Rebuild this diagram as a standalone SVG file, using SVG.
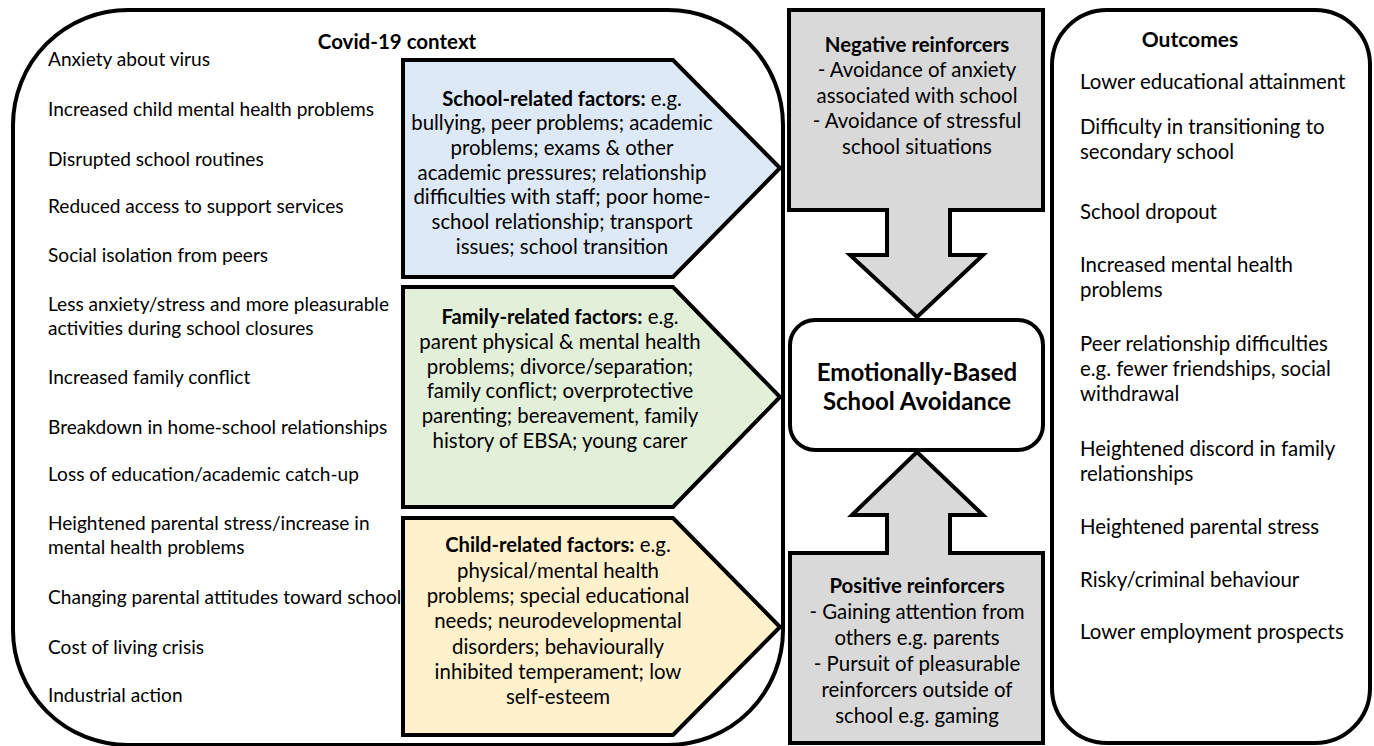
<svg xmlns="http://www.w3.org/2000/svg" width="1374" height="746" viewBox="0 0 1374 746">
<style>
.t{font-family:Lato,"Liberation Sans",sans-serif;fill:#000}
.l{font-size:19.1px}
.p{font-size:20.4px;text-anchor:middle}
.o{font-size:20.4px}
.b{font-weight:bold}
.pb{font-weight:bold;font-size:20.2px}
.box{fill:#fff;stroke:#000;stroke-width:4}
.pent{stroke:#000;stroke-width:4;stroke-linejoin:miter}
.gray{fill:#d9d9d9;stroke:#000;stroke-width:4;stroke-linejoin:miter}
</style>
<rect width="1374" height="746" fill="#fff"/>
<g id="covid-context">
<rect class="box" x="13" y="10" width="770" height="735" rx="115" ry="115"/>
<text class="t b" x="397" y="49" font-size="20.5" text-anchor="middle">Covid-19 context</text>
<g class="t l">
<text x="48" y="66">Anxiety about virus</text>
<text x="48" y="116">Increased child mental health problems</text>
<text x="48" y="166">Disrupted school routines</text>
<text x="48" y="213">Reduced access to support services</text>
<text x="48" y="262">Social isolation from peers</text>
<text x="48" y="311">Less anxiety/stress and more pleasurable</text>
<text x="48" y="335">activities during school closures</text>
<text x="48" y="384">Increased family conflict</text>
<text x="48" y="434">Breakdown in home-school relationships</text>
<text x="48" y="481">Loss of education/academic catch-up</text>
<text x="48" y="530">Heightened parental stress/increase in</text>
<text x="48" y="554">mental health problems</text>
<text x="48" y="604">Changing parental attitudes toward school</text>
<text x="48" y="654">Cost of living crisis</text>
<text x="48" y="702">Industrial action</text>
</g>
</g>
<g id="school-factors">
<polygon class="pent" fill="#dde9f6" points="403,60 673,60 780,168 673,277 403,277"/>
<g class="t p">
<text x="562" y="106"><tspan class="pb">School-related factors:</tspan> e.g.</text>
<text x="562" y="130">bullying, peer problems; academic</text>
<text x="562" y="155">problems; exams &amp; other</text>
<text x="562" y="180">academic pressures; relationship</text>
<text x="562" y="204">difficulties with staff; poor home-</text>
<text x="562" y="229">school relationship; transport</text>
<text x="562" y="254">issues; school transition</text>
</g>
</g>
<g id="family-factors">
<polygon class="pent" fill="#e2efd9" points="403,287 673,287 780,397 673,507 403,507"/>
<g class="t p">
<text x="560" y="324"><tspan class="pb">Family-related factors:</tspan> e.g.</text>
<text x="560" y="349">parent physical &amp; mental health</text>
<text x="560" y="374">problems; divorce/separation;</text>
<text x="560" y="398">family conflict; overprotective</text>
<text x="560" y="423">parenting; bereavement, family</text>
<text x="560" y="448">history of EBSA; young carer</text>
</g>
</g>
<g id="child-factors">
<polygon class="pent" fill="#fff1cc" points="403,518 673,518 780,627 673,735 403,735"/>
<g class="t p">
<text x="558" y="552"><tspan class="pb">Child-related factors:</tspan> e.g.</text>
<text x="558" y="578">physical/mental health</text>
<text x="558" y="603">problems; special educational</text>
<text x="558" y="628">needs; neurodevelopmental</text>
<text x="558" y="654">disorders; behaviourally</text>
<text x="558" y="679">inhibited temperament; low</text>
<text x="558" y="704">self-esteem</text>
</g>
</g>
<g id="connectors">
<path id="negative-arrow" class="gray" d="M789,10 H1043 V210 H950 V255 H983 L917,317 L850,255 H887 V210 H789 Z"/>
<path id="positive-arrow" class="gray" d="M790,553 H887 V515 H852 L917,452 L983,515 H950 V553 H1043 V743 H790 Z"/>
</g>
<g id="negative-reinforcers">
<g class="t p">
<text class="b" x="917" y="52">Negative reinforcers</text>
<text x="917" y="77">- Avoidance of anxiety</text>
<text x="917" y="103">associated with school</text>
<text x="917" y="128">- Avoidance of stressful</text>
<text x="917" y="154">school situations</text>
</g>
</g>
<g id="positive-reinforcers">
<g class="t p">
<text class="b" x="917" y="593">Positive reinforcers</text>
<text x="917" y="619">- Gaining attention from</text>
<text x="917" y="645">others e.g. parents</text>
<text x="917" y="671">- Pursuit of pleasurable</text>
<text x="917" y="697">reinforcers outside of</text>
<text x="917" y="723">school e.g. gaming</text>
</g>
</g>
<g id="ebsa">
<rect class="box" x="790" y="320" width="253" height="130" rx="25" ry="25"/>
<text class="t b" x="917" y="381" font-size="24" text-anchor="middle">Emotionally-Based</text>
<text class="t b" x="917" y="410" font-size="24" text-anchor="middle">School Avoidance</text>
</g>
<g id="outcomes">
<rect class="box" x="1052" y="10" width="318" height="733" rx="55" ry="55"/>
<text class="t b" x="1190" y="47" font-size="21" text-anchor="middle">Outcomes</text>
<g class="t o">
<text x="1080" y="89">Lower educational attainment</text>
<text x="1080" y="134">Difficulty in transitioning to</text>
<text x="1080" y="159">secondary school</text>
<text x="1080" y="219">School dropout</text>
<text x="1080" y="272">Increased mental health</text>
<text x="1080" y="297">problems</text>
<text x="1080" y="351">Peer relationship difficulties</text>
<text x="1080" y="376">e.g. fewer friendships, social</text>
<text x="1080" y="401">withdrawal</text>
<text x="1080" y="456">Heightened discord in family</text>
<text x="1080" y="481">relationships</text>
<text x="1080" y="534">Heightened parental stress</text>
<text x="1080" y="587">Risky/criminal behaviour</text>
<text x="1080" y="639">Lower employment prospects</text>
</g>
</g>
</svg>
